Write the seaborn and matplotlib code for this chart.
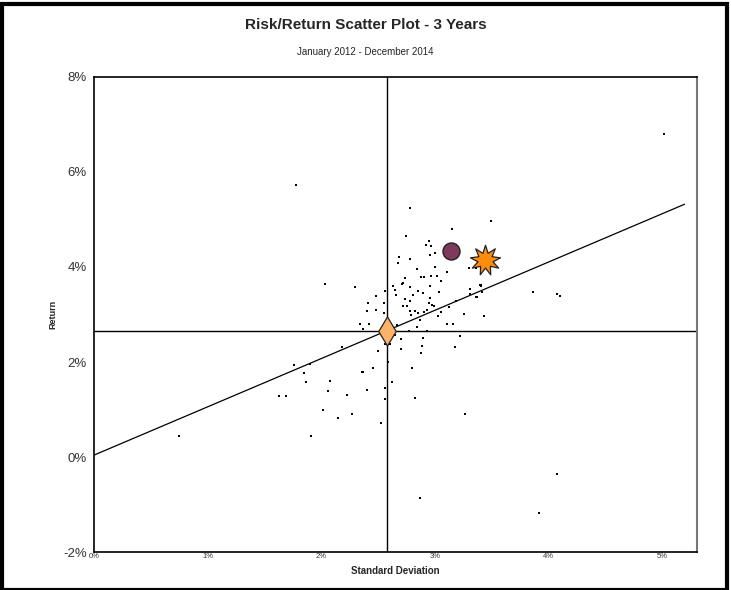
import numpy as np
import pandas as pd
import seaborn as sns
import matplotlib.pyplot as plt
from matplotlib.ticker import MultipleLocator, FuncFormatter
from matplotlib.patches import Rectangle

# risk / return of the peer funds (in %)
peer_sd = [0.75, 1.78, 2.03, 5.02, 3.50, 3.87, 4.08, 4.10, 3.92, 4.08,
           2.87, 3.27, 2.53, 1.91, 2.02, 2.15, 2.27, 1.63, 1.69, 1.76,
           1.90, 1.85, 1.87, 2.08, 2.06, 2.23, 2.40, 2.36, 2.37, 2.46,
           2.56, 2.56, 2.62, 2.59, 2.80, 2.83, 2.18, 2.50, 2.56, 2.61,
           2.70, 2.88, 2.89, 3.18, 3.22, 2.90, 2.70, 2.65, 2.77, 2.93,
           2.34, 2.42, 2.37, 2.67, 2.84, 3.11, 3.16, 2.87, 2.79, 3.03,
           3.43, 3.26, 3.06, 2.91, 2.78, 2.83, 2.85, 2.55, 2.40, 2.48,
           2.72, 2.76, 2.99, 3.13, 2.41, 2.55, 2.78, 2.95, 3.19, 2.93,
           2.98, 2.74, 2.66, 2.81, 2.96, 2.90, 3.04, 3.37, 3.31, 2.48,
           2.56, 2.85, 3.42, 3.31, 3.40, 2.63, 2.65, 2.78, 2.96, 3.06,
           2.30, 2.72, 2.71, 2.74, 2.88, 2.91, 2.97, 3.02, 2.84, 3.00,
           3.11, 3.30, 3.36, 2.68, 2.69, 2.78, 2.96, 3.00, 2.95, 2.92,
           2.97, 2.75, 3.15, 2.78, 3.41, 3.36, 3.41]
peer_ret = [0.45, 5.73, 3.65, 6.80, 4.97, 3.47, 3.43, 3.38, -1.17, -0.35,
            -0.86, 0.91, 0.72, 0.44, 1.00, 0.82, 0.91, 1.29, 1.29, 1.94,
            1.95, 1.76, 1.57, 1.59, 1.38, 1.31, 1.41, 1.80, 1.80, 1.88,
            1.45, 1.23, 1.57, 2.00, 1.87, 1.24, 2.31, 2.23, 2.37, 2.38,
            2.28, 2.20, 2.34, 2.32, 2.54, 2.51, 2.48, 2.57, 2.65, 2.66,
            2.79, 2.81, 2.69, 2.77, 2.73, 2.80, 2.81, 2.88, 2.98, 2.96,
            2.97, 3.01, 3.05, 3.05, 3.07, 3.07, 3.04, 3.04, 3.08, 3.09,
            3.17, 3.18, 3.17, 3.15, 3.24, 3.24, 3.29, 3.24, 3.28, 3.10,
            3.20, 3.33, 3.40, 3.41, 3.35, 3.45, 3.47, 3.36, 3.43, 3.39,
            3.49, 3.50, 3.48, 3.54, 3.62, 3.59, 3.52, 3.57, 3.60, 3.71,
            3.57, 3.66, 3.64, 3.76, 3.79, 3.79, 3.82, 3.80, 3.95, 3.99,
            3.89, 3.97, 3.97, 4.08, 4.20, 4.16, 4.26, 4.30, 4.54, 4.47,
            4.45, 4.65, 4.79, 5.25, 3.60, 3.37, 3.63]

# highlighted portfolios
fund_sd, fund_ret = 3.14, 4.34        # circle
manager_sd, manager_ret = 3.44, 4.14  # orange burst
bench_sd, bench_ret = 2.58, 2.66      # diamond, also the crosshair
risk_free = 0.04
line_end_sd = 5.2

x_ticks = [0, 1, 2, 3, 4, 5]
y_ticks = [-2, 0, 2, 4, 6, 8]

peers = pd.DataFrame({'sd': peer_sd, 'ret': peer_ret})

sns.set_style('white')
plt.rcParams['font.family'] = ['Liberation Sans', 'DejaVu Sans']

fig = plt.figure(figsize=(7.31, 5.90), dpi=100)
ax = fig.add_axes([0.1286, 0.0644, 0.8249, 0.8051])

# crosshair through the benchmark
ax.axvline(bench_sd, color='black', lw=1.0, zorder=1)
ax.axhline(bench_ret, color='black', lw=1.0, zorder=1)

# line from the risk free rate through the benchmark
slope = (bench_ret - risk_free) / bench_sd
line_x = np.array([0, line_end_sd])
ax.plot(line_x, risk_free + slope * line_x, color='black', lw=0.9, zorder=2)

sns.scatterplot(data=peers, x='sd', y='ret', ax=ax, color='black',
                marker='s', s=3.5, linewidth=0, zorder=3)

sns.scatterplot(x=[fund_sd], y=[fund_ret], ax=ax, color='#7d3a5b',
                marker='o', s=150, edgecolor='#222222', linewidth=1, zorder=4)
sns.scatterplot(x=[manager_sd], y=[manager_ret], ax=ax, color='#ff8c0a',
                marker=(9, 1, 0), s=480, edgecolor='#222222', linewidth=0.9, zorder=4)
sns.scatterplot(x=[bench_sd], y=[bench_ret], ax=ax, color='#fdb26a',
                marker='d', s=220, edgecolor='#222222', linewidth=0.9, zorder=4)

ax.set_xlim(0, 5.31)
ax.set_ylim(-2, 8)
ax.set_xticks(x_ticks)
ax.set_yticks(y_ticks)
ax.xaxis.set_minor_locator(MultipleLocator(0.2))
ax.yaxis.set_minor_locator(MultipleLocator(0.5))
ax.xaxis.set_major_formatter(FuncFormatter(lambda v, p: f'{v:.0f}%'))
ax.yaxis.set_major_formatter(FuncFormatter(lambda v, p: f'{v:.0f}%'))
ax.tick_params(axis='both', which='both', direction='in')
ax.tick_params(axis='x', which='major', length=4, width=0.6, labelsize=5.5,
               labelcolor='#333333', pad=1)
ax.tick_params(axis='x', which='minor', length=2, width=0.5)
ax.tick_params(axis='y', which='major', length=4, width=0.6, labelsize=9.5,
               labelcolor='#333333', pad=5)
ax.tick_params(axis='y', which='minor', length=2, width=0.5)

for side in ['left', 'bottom', 'top']:
    ax.spines[side].set_color('black')
    ax.spines[side].set_linewidth(1.2)
ax.spines['right'].set_color('#777777')
ax.spines['right'].set_linewidth(1.5)

ax.set_xlabel('Standard Deviation', fontsize=7, fontweight='bold', labelpad=4)
ax.set_ylabel('Return', fontsize=6.5, fontweight='bold', labelpad=4)

fig.text(0.5, 0.957, 'Risk/Return Scatter Plot - 3 Years', ha='center', va='center',
         fontsize=11, fontweight='bold')
fig.text(0.5, 0.912, 'January 2012 - December 2014', ha='center', va='center', fontsize=7)

# frame round the whole picture
fig.patches.append(Rectangle((0.003, 0.0), 0.992, 0.993, transform=fig.transFigure,
                             fill=False, edgecolor='black', linewidth=3))

fig.savefig('out.png', dpi=100)
